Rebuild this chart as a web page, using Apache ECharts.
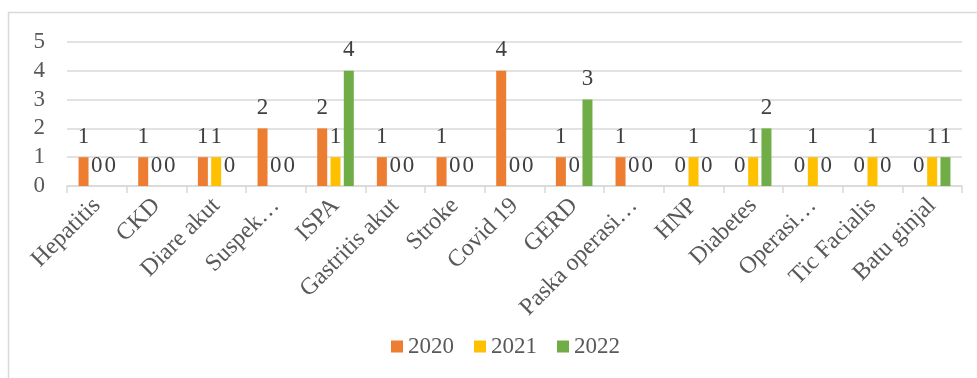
<!DOCTYPE html>
<html>
<head>
<meta charset="utf-8">
<script src="https://cdn.jsdelivr.net/npm/echarts@6/dist/echarts.min.js"></script>
<style>
html,body{margin:0;padding:0;background:#fff;}
#chart{width:977px;height:378px;}
</style>
</head>
<body>
<div id="chart"></div>
<script>
var categories = ["Hepatitis","CKD","Diare akut","Suspek…","ISPA","Gastritis akut","Stroke","Covid 19","GERD","Paska operasi…","HNP","Diabetes","Operasi…","Tic Facialis","Batu ginjal"];
var seriesNames = ["2020","2021","2022"];
var values2020 = [1,1,1,2,2,1,1,4,1,1,0,0,0,0,0];
var values2021 = [0,0,1,0,1,0,0,0,0,0,1,1,1,1,1];
var values2022 = [0,0,0,0,4,0,0,0,3,0,0,2,0,0,1];
var yTicks = [0,1,2,3,4,5];
var colors = ["#ED7D31","#FFC000","#70AD47"];

var font = "'Liberation Serif','Times New Roman',serif";
var textColor = "#595959";

function mk(name, data, color){
  return {
    name: name, type: 'bar', data: data,
    barWidth: 10, barGap: '33%', barCategoryGap: '39%',
    itemStyle: {color: color},
    label: {show: true, position: 'top', distance: 9, color: '#404040', fontFamily: font, fontSize: 23},
    emphasis: {disabled: true}
  };
}

var chart = echarts.init(document.getElementById('chart'), null, {renderer: 'canvas'});
chart.setOption({
  animation: false,
  backgroundColor: '#fff',
  textStyle: {fontFamily: font},
  graphic: [{type: 'rect', shape: {x: 8.5, y: 12.5, width: 990, height: 400}, style: {fill: null, stroke: '#d9d9d9', lineWidth: 1.5}, silent: true, z: -1}],
  grid: {left: 67, right: 15, top: 42, bottom: 192, containLabel: false},
  legend: {
    data: seriesNames, bottom: 15, left: 386, itemWidth: 12, itemHeight: 12, itemGap: 20,
    icon: 'rect', textStyle: {fontFamily: font, fontSize: 23, color: textColor}
  },
  xAxis: {
    type: 'category', data: categories,
    axisLine: {lineStyle: {color: '#d9d9d9', width: 1.5}},
    axisTick: {show: true, length: 7, lineStyle: {color: '#d9d9d9', width: 1.5}},
    axisLabel: {rotate: 45, interval: 0, fontFamily: font, fontSize: 24, color: textColor, margin: 16}
  },
  yAxis: {
    type: 'value', min: yTicks[0], max: yTicks[yTicks.length-1], interval: 1,
    axisLine: {show: false}, axisTick: {show: false},
    splitLine: {lineStyle: {color: '#d9d9d9', width: 1.5}},
    axisLabel: {fontFamily: font, fontSize: 23, color: textColor, margin: 22}
  },
  series: [mk(seriesNames[0], values2020, colors[0]), mk(seriesNames[1], values2021, colors[1]), mk(seriesNames[2], values2022, colors[2])]
});
</script>
</body>
</html>
